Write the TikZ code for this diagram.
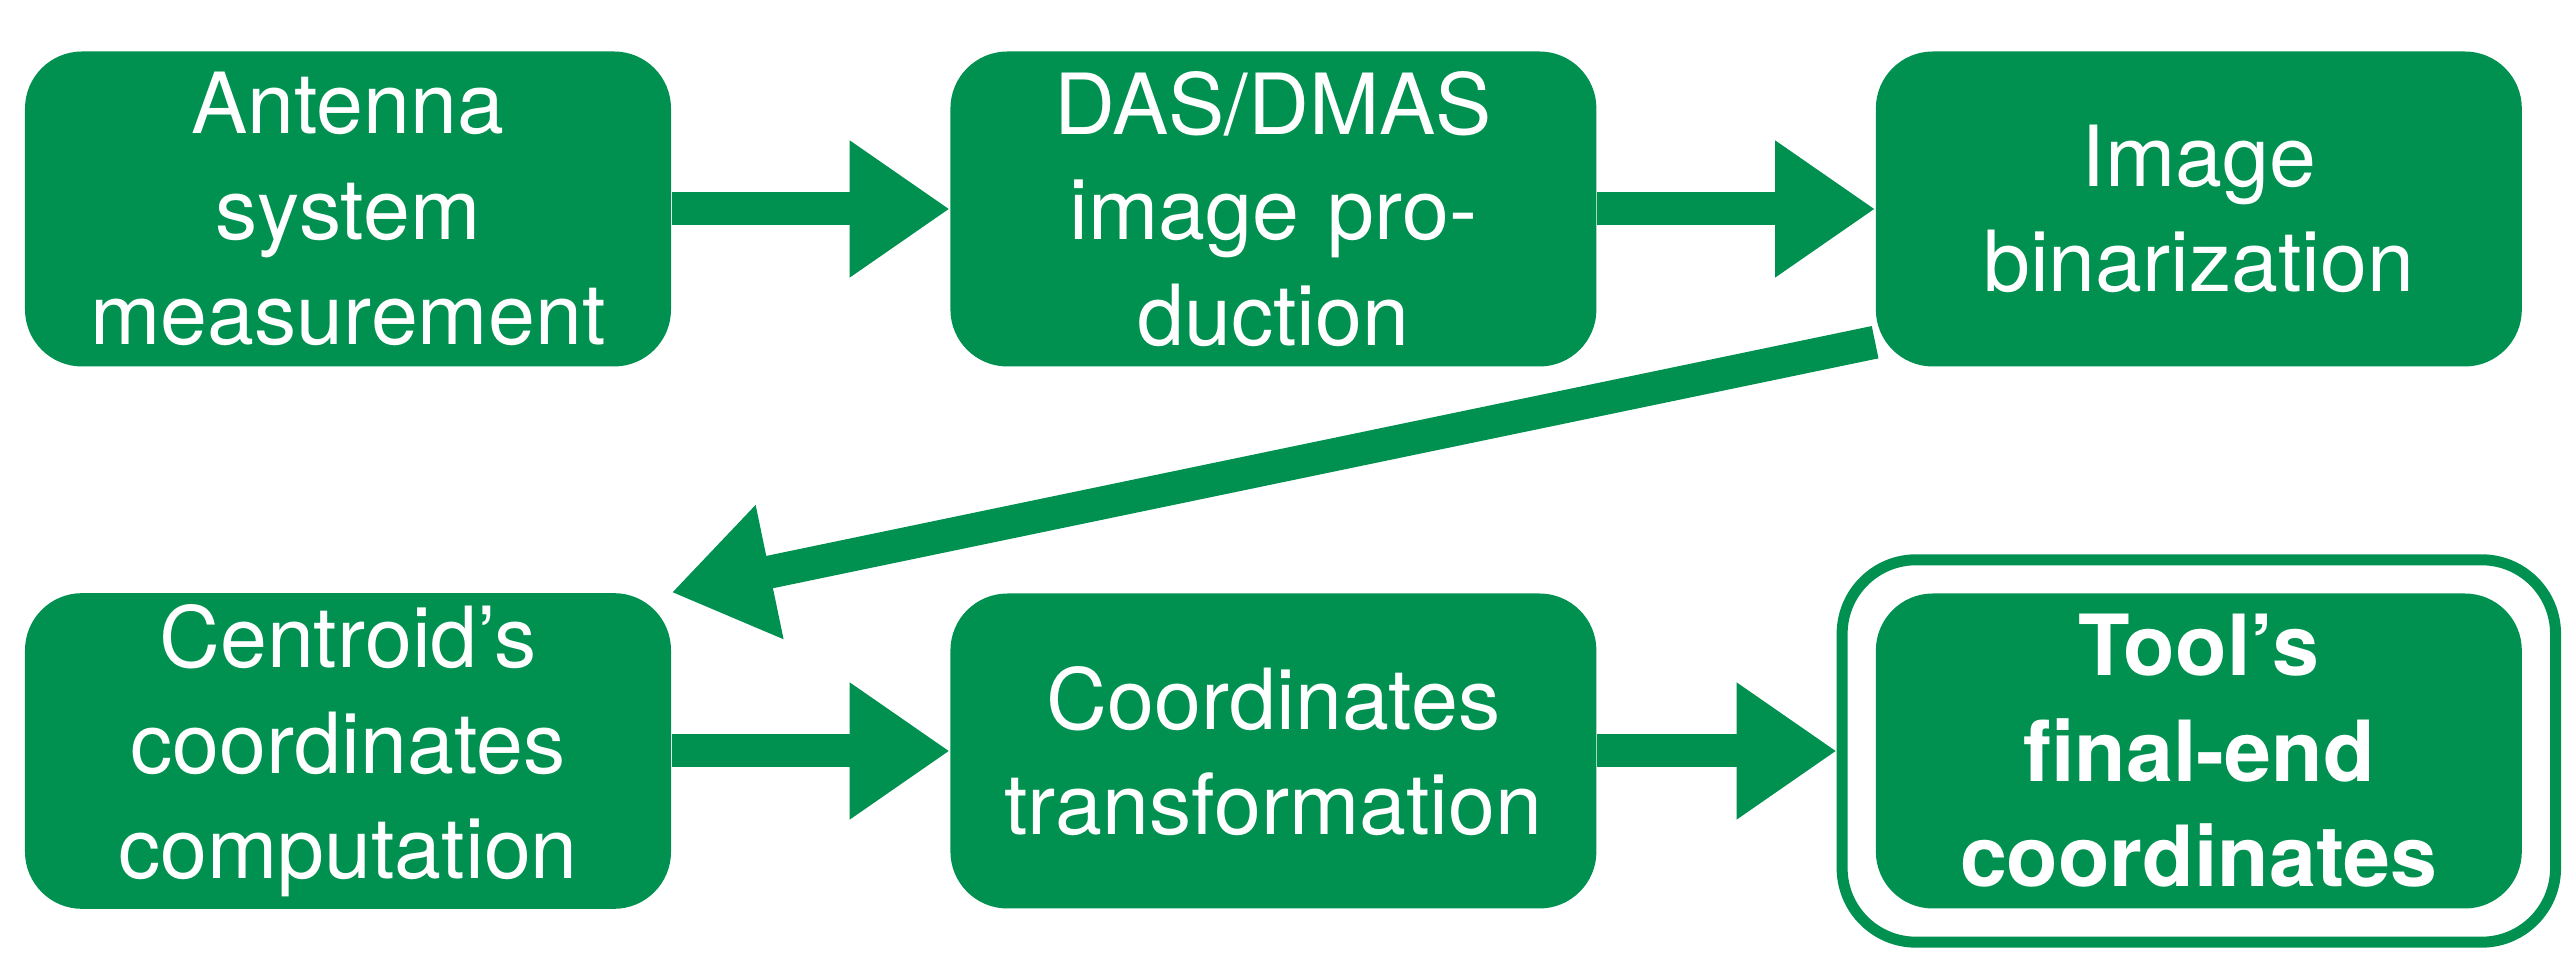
\documentclass[tikz,border=0pt]{standalone}
\usepackage{fontspec}
\setmainfont{TeX Gyre Heros}
\usetikzlibrary{positioning,fit,arrows.meta}
\definecolor{boxgreen}{HTML}{009150}
\tikzstyle{B} = [rectangle,
			fill=boxgreen, text=white,
			text width=6cm, align=center,
			minimum width=6.46cm, minimum height=3.15cm,
			rounded corners=0.57cm, font=\fontsize{24}{30}\selectfont]
\tikzstyle{R} = [rectangle, draw=boxgreen, line width=0.11cm,
			rounded corners=0.74cm, inner sep=0.33cm]
\tikzstyle{L} = [draw=boxgreen, line width=0.33cm,
			-{Triangle[length=1cm,width=1.3cm]}]

\begin{document}
\begin{tikzpicture}[node distance=2.78cm]
\useasboundingbox (0,0) rectangle (25.64,9.79);

\node [B] at (3.48,7.70)
(ant)
	{Antenna system\\measurement};

\node [B, right=of ant]
(das)
	{DAS/DMAS\\image production};

\node [B, right=of das]
(bin)
	{Image\\binarization};

\node [B] at (3.48,2.28)
(cen)
	{Centroid's\\coordinates\\computation};

\node [B, right=of cen]
(tra)
	{Coordinates\\transformation};

\node [B, right=of tra, font=\bfseries\fontsize{24}{30}\selectfont]
(too)
	{Tool's final-end\\coordinates};

\node [R, fit=(too)]
(ring)
	{};

\coordinate [above=0.25cm of bin.south west] (binout);

\path[L] (ant) -- (das);

\path[L] (das) -- (bin);

\path[L] (binout) -- (cen.north east);

\path[L] (cen) -- (tra);

\path[L] (tra) -- (ring);

\end{tikzpicture}
\end{document}
